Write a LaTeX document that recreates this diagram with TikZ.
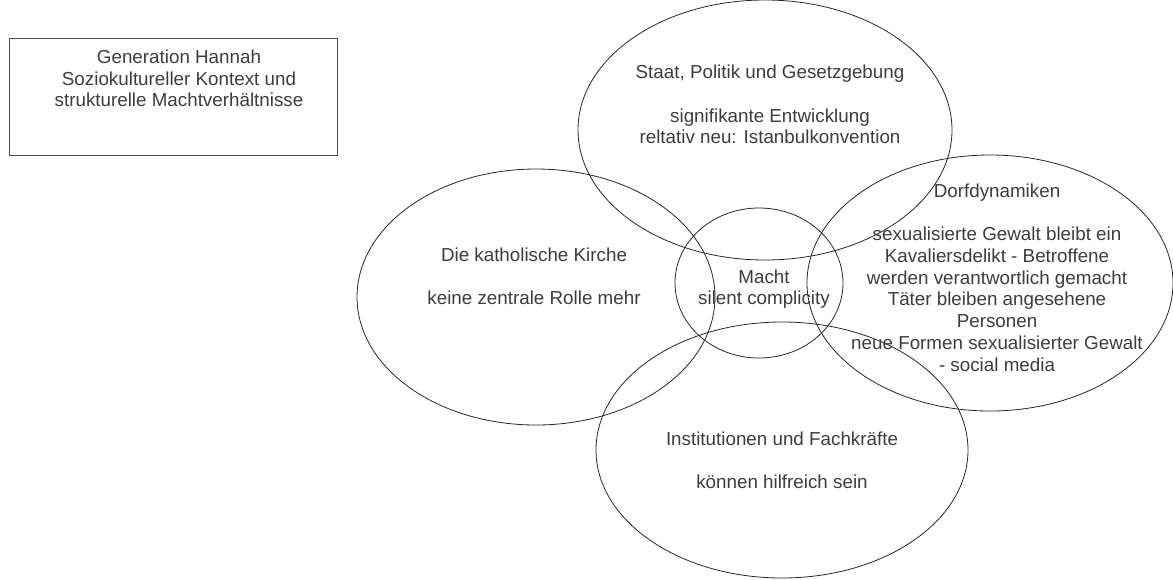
\documentclass[tikz,border=0pt]{standalone}
\usepackage{fontspec}
\setmainfont{Liberation Sans}
\definecolor{textgray}{HTML}{3C3C3C}
\begin{document}
\begin{tikzpicture}[x=1pt,y=-1pt,
  zone/.style={line width=0.8pt,color=black!85},
  zonetext/.style={align=center,color=textgray,inner sep=0pt,
    font=\fontsize{18.8}{21.7}\selectfont}]
  \useasboundingbox (0,0) rectangle (1173,579);

  % title box
  \draw[line width=0.8pt,color=black!70] (9,38) rectangle (337,155);
  \node[zonetext] (title) at (179,78.5)
    {Generation Hannah\\Soziokultureller Kontext und\\strukturelle Machtverhältnisse};

  % the five fields
  \draw[zone] (765,130) ellipse [x radius=187,y radius=130];
  \draw[zone] (536,297) ellipse [x radius=179,y radius=128];
  \draw[zone] (990,283) ellipse [x radius=183,y radius=128];
  \draw[zone] (782,450) ellipse [x radius=186,y radius=128];
  \draw[zone] (759,283) ellipse [x radius=84,y radius=75];

  \node[zonetext] (staat) at (770,104.6)
    {Staat, Politik und Gesetzgebung\\[\baselineskip]signifikante Entwicklung\\reltativ neu: Istanbulkonvention};
  \node[zonetext] (kirche) at (534,276.5)
    {Die katholische Kirche\\[\baselineskip]keine zentrale Rolle mehr};
  \node[zonetext] (dorf) at (997,277.5)
    {Dorfdynamiken\\[\baselineskip]sexualisierte Gewalt bleibt ein\\Kavaliersdelikt - Betroffene\\werden verantwortlich gemacht\\Täter bleiben angesehene\\Personen\\neue Formen sexualisierter Gewalt\\- social media};
  \node[zonetext] (institution) at (782,460)
    {Institutionen und Fachkräfte\\[\baselineskip]können hilfreich sein};
  \node[zonetext] (macht) at (764,289)
    {Macht\\silent complicity};
\end{tikzpicture}
\end{document}
